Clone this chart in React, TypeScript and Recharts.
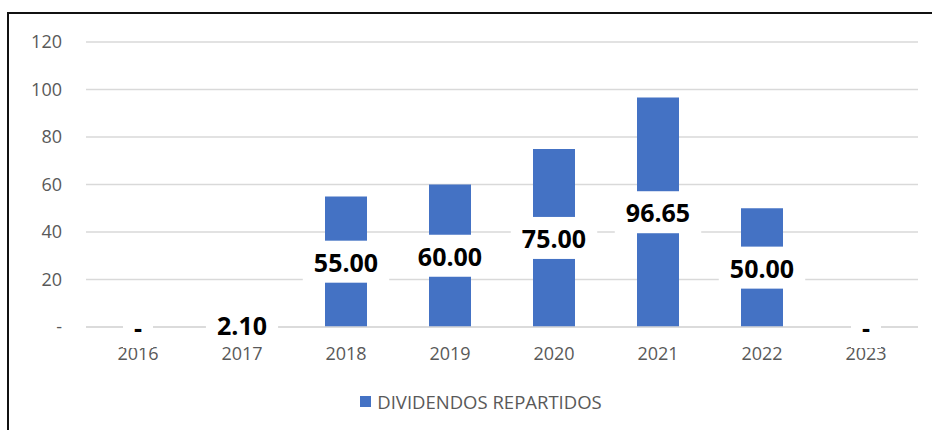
import { ComposedChart, Bar, Line, XAxis, YAxis, CartesianGrid, Legend, LabelList } from "recharts";

const years = ["2016", "2017", "2018", "2019", "2020", "2021", "2022", "2023"];
const dividends = [0, 2.1, 55, 60, 75, 96.65, 50, 0];
const yTicks = [0, 20, 40, 60, 80, 100, 120];
const seriesName = "DIVIDENDOS REPARTIDOS";

// mid is only used to place the value label in the middle of each bar
const data = years.map((year, i) => ({ year, value: dividends[i], mid: dividends[i] / 2 }));

const FONT = "'Open Sans', sans-serif";

// value label with white box behind it
const ValueLabel = (props: any) => {
    const { x, y, value } = props;
    const text = value === 0 ? "-" : Number(value).toFixed(2);
    const fs = 25;
    let w = 0;
    for (const ch of text) {
        if (ch === ".") w += 0.29 * fs;
        else if (ch === "-") w += 0.32 * fs;
        else w += 0.572 * fs;
    }
    const cx = Number(x);
    const cy = Number(y);
    const bw = w + 22;
    const bh = 42;
    return (
        <g>
            <rect x={cx - bw / 2} y={cy - bh / 2} width={bw} height={bh} fill="#ffffff" />
            <text
                x={cx}
                y={cy}
                textAnchor="middle"
                dominantBaseline="central"
                fontFamily={FONT}
                fontWeight={700}
                fontSize={fs}
                fill="#000000"
            >
                {text}
            </text>
        </g>
    );
};

const LegendContent = () => (
    <div style={{ display: "flex", justifyContent: "center", alignItems: "center", fontFamily: FONT, paddingLeft: 30 }}>
        <span style={{ width: 11, height: 11, background: "#4472c4", display: "inline-block", marginRight: 6 }} />
        <span style={{ fontSize: 18.5, color: "#595959" }}>{seriesName}</span>
    </div>
);

const App = () => {
    return (
        <div style={{ position: "absolute", left: 0, top: 0, width: 932, height: 430, background: "#fff", overflow: "hidden" }}>
            <div
                style={{
                    position: "absolute",
                    left: 7,
                    top: 12,
                    width: 940,
                    height: 440,
                    borderTop: "2px solid #111",
                    borderLeft: "2px solid #111",
                }}
            />
            <div style={{ position: "absolute", left: 0, top: 0 }}>
                <ComposedChart width={932} height={430} data={data} margin={{ top: 42, right: 14, left: 0, bottom: 0 }}>
                    <CartesianGrid vertical={false} stroke="#d9d9d9" strokeWidth={1.5} />
                    <XAxis
                        dataKey="year"
                        axisLine={{ stroke: "#d9d9d9", strokeWidth: 1.5 }}
                        tickLine={false}
                        tickSize={0}
                        tickMargin={20}
                        height={78}
                        tick={{ fill: "#595959", fontSize: 18, fontFamily: FONT }}
                    />
                    <YAxis
                        width={86}
                        domain={[0, 120]}
                        ticks={yTicks}
                        axisLine={false}
                        tickLine={false}
                        tickSize={0}
                        tickMargin={24}
                        tickFormatter={(v: number) => (v === 0 ? "-" : String(v))}
                        tick={{ fill: "#595959", fontSize: 18, fontFamily: FONT }}
                    />
                    <Legend content={<LegendContent />} wrapperStyle={{ top: 389, left: 0, width: 932 }} />
                    <Bar dataKey="value" name={seriesName} fill="#4472c4" barSize={42} isAnimationActive={false} />
                    <Line
                        dataKey="mid"
                        stroke="none"
                        dot={false}
                        activeDot={false}
                        legendType="none"
                        isAnimationActive={false}
                    >
                        <LabelList dataKey="value" content={<ValueLabel />} />
                    </Line>
                </ComposedChart>
            </div>
        </div>
    );
};

export default App;
